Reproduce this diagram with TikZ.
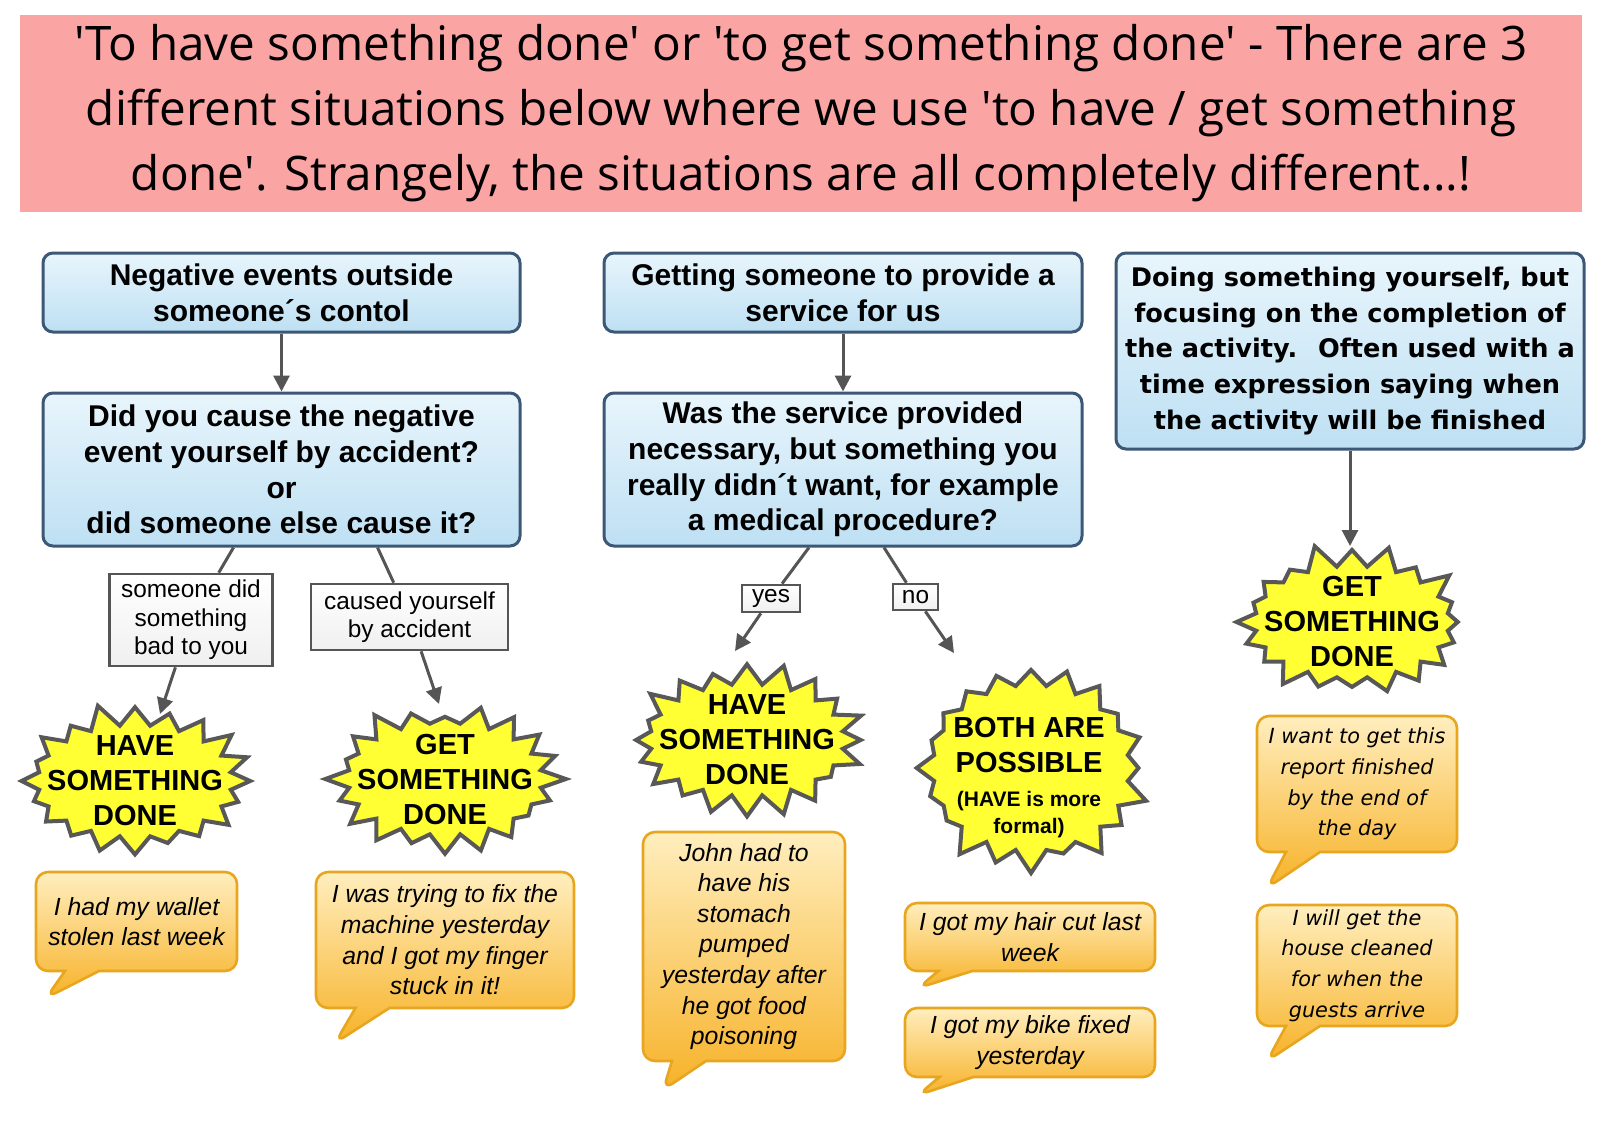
\documentclass[tikz,border=0pt]{standalone}
\usepackage{fontspec}
\setmainfont{Liberation Sans}
\newfontfamily\titlefont{Open Sans}
\newfontfamily\verdfont{DejaVu Sans}
\usetikzlibrary{shapes.symbols,shapes.callouts,arrows.meta,calc,positioning}

\definecolor{titlepink}{RGB}{250,164,164}
\definecolor{boxline}{RGB}{60,88,118}
\definecolor{boxtop}{RGB}{232,245,252}
\definecolor{boxbot}{RGB}{190,224,243}
\definecolor{burstyellow}{RGB}{255,255,51}
\definecolor{burstline}{RGB}{88,88,88}
\definecolor{bubtop}{RGB}{255,238,190}
\definecolor{bubbot}{RGB}{247,178,40}
\definecolor{bubline}{RGB}{232,165,30}
\definecolor{arrgray}{RGB}{85,85,85}

\newcommand{\sq}{\textquotesingle}

\begin{document}
\begin{tikzpicture}[
  x=0.5pt, y=-0.5pt,
  titlebox/.style={rectangle, fill=titlepink, minimum width=781pt, minimum height=98.5pt,
    inner sep=0pt, align=center, font=\titlefont\fontsize{23.8}{32.5}\selectfont},
  qbox/.style={rectangle, draw=boxline, line width=1.5pt, rounded corners=5pt,
    top color=boxtop, bottom color=boxbot, align=center, inner sep=0pt,
    font=\fontsize{15}{17.9}\selectfont\bfseries},
  lbl/.style={rectangle, draw=arrgray, line width=1.3pt, top color=white, bottom color=gray!12,
    align=center, inner sep=0pt, font=\fontsize{12.2}{14.3}\selectfont},
  burst/.style={starburst, draw=burstline, fill=burstyellow, line width=2pt,
    starburst points=20, starburst point height=12pt, inner sep=0pt,
    minimum width=121pt, minimum height=80pt},
  bursttext/.style={align=center, font=\fontsize{14.5}{17.5}\selectfont\bfseries},
  bubble/.style={rectangle callout, draw=bubline, line width=1.3pt, rounded corners=6pt,
    top color=bubtop, bottom color=bubbot, callout pointer width=17pt, align=center,
    inner sep=0pt, font=\fontsize{12.4}{15.3}\selectfont\itshape},
  vbubble/.style={bubble, font=\verdfont\fontsize{10.4}{15.3}\selectfont\itshape},
  arr/.style={-{Triangle[length=8pt,width=8pt]}, draw=arrgray, line width=1.5pt},
  link/.style={draw=arrgray, line width=1.5pt}
]
\useasboundingbox (0,0) rectangle (1600,1131);

% Title
\node[titlebox] (title) at (801,113.5) {\sq To have something done\sq{} or \sq to get something done\sq{} - There are 3\\
  different situations below where we use \sq to have / get something\\
  done\sq. Strangely, the situations are all completely different...!};

% Question boxes
\node[qbox, minimum width=238.5pt, minimum height=39.5pt] (neg) at (281.5,292.5) {Negative events outside\\someone´s contol};
\node[qbox, minimum width=238.5pt, minimum height=76.5pt] (cause) at (281.5,469.5) {Did you cause the negative\\event yourself by accident?\\or\\did someone else cause it?};
\node[qbox, minimum width=239pt, minimum height=39.5pt] (serv) at (843,292.5) {Getting someone to provide a\\service for us};
\node[qbox, minimum width=239pt, minimum height=76.5pt] (need) at (843,469.5) {Was the service provided\\necessary, but something you\\really didn´t want, for example\\a medical procedure?};
\node[qbox, minimum width=234pt, minimum height=98pt, font=\verdfont\fontsize{12.8}{17.9}\selectfont\bfseries] (self) at (1350,351) {Doing something yourself, but\\focusing on the completion of\\the activity.~ Often used with a\\time expression saying when\\the activity will be finished};

% Answer labels
\node[lbl, minimum width=81.5pt, minimum height=46pt] (bad) at (191,620) {someone did\\something\\bad to you};
\node[lbl, minimum width=98.5pt, minimum height=33pt] (acc) at (409.5,617) {caused yourself\\by accident};
\node[lbl, minimum width=29pt, minimum height=13.5pt] (yes) at (771,598.5) {yes};
\node[lbl, minimum width=22.5pt, minimum height=13pt] (no) at (915.5,597) {no};

% Starbursts
\node[burst, random starburst=11] (s1) at (135,781) {};
\node[burst, random starburst=23] (s2) at (445,779) {};
\node[burst, random starburst=37] (s3) at (747,740) {};
\node[burst, minimum width=122pt, minimum height=107pt, random starburst=51] (s4) at (1031,768) {};
\node[burst, random starburst=64] (s5) at (1352,622) {};

\node[bursttext] (t1) at (s1) {HAVE\\SOMETHING\\DONE};
\node[bursttext] (t2) at (s2) {GET\\SOMETHING\\DONE};
\node[bursttext] (t3) at (s3) {HAVE\\SOMETHING\\DONE};
\node[bursttext] (t4) at (1029,745) {BOTH ARE\\POSSIBLE};
\node[bursttext, font=\fontsize{10.5}{13.5}\selectfont\bfseries, below=2pt of t4] (t4b) {(HAVE is more\\formal)};
\node[bursttext] (t5) at (s5) {GET\\SOMETHING\\DONE};

% Connectors
\draw[arr] (neg) -- (cause);
\draw[arr] (serv) -- (need);
\draw[arr] (self) -- ($(s5)+(-2,-76)$);
\draw[link] ([xshift=-24pt]cause.south) -- (bad);
\draw[arr] (bad) -- ($(s1)+(25,-67)$);
\draw[link] ([xshift=48pt]cause.south) -- (acc);
\draw[arr] (acc) -- ($(s2)+(-6,-75)$);
\draw[link] ([xshift=-17pt]need.south) -- (yes);
\draw[arr] (yes) -- ($(s3)+(-12,-89)$);
\draw[link] ([xshift=20.5pt]need.south) -- (no);
\draw[arr] (no) -- ($(s4)+(-77,-115)$);

% Example bubbles
\node[bubble, minimum width=100.5pt, minimum height=49.5pt, callout absolute pointer={(46,998)}] (ex1) at (136.5,921.5) {I had my wallet\\stolen last week};
\node[bubble, minimum width=129pt, minimum height=68pt, callout absolute pointer={(335,1043)}] (ex2) at (445,940) {I was trying to fix the\\machine yesterday\\and I got my finger\\stuck in it!};
\node[bubble, minimum width=101pt, minimum height=114.5pt, callout absolute pointer={(663,1090)}] (ex3) at (744,946.5) {John had to\\have his\\stomach\\pumped\\yesterday after\\he got food\\poisoning};
\node[bubble, minimum width=125pt, minimum height=34pt, callout absolute pointer={(918,988)}] (ex4) at (1030,937) {I got my hair cut last\\week};
\node[bubble, minimum width=125pt, minimum height=34.5pt, callout absolute pointer={(918,1095)}] (ex5) at (1030,1042.5) {I got my bike fixed\\yesterday};
\node[vbubble, minimum width=100pt, minimum height=68pt, callout absolute pointer={(1267,888)}] (ex6) at (1357,784) {I want to get this\\report finished\\by the end of\\the day};
\node[vbubble, minimum width=100pt, minimum height=60.5pt, callout absolute pointer={(1267,1061)}] (ex7) at (1357,965.5) {I will get the\\house cleaned\\for when the\\guests arrive};

\end{tikzpicture}
\end{document}
